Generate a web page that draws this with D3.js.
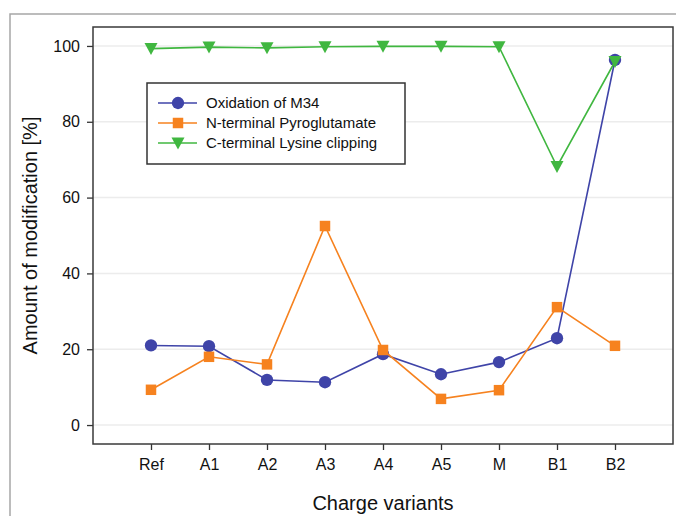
<!DOCTYPE html>
<html>
<head>
<meta charset="utf-8">
<script src="https://cdn.jsdelivr.net/npm/d3@7"></script>
<style>
  html, body { margin: 0; padding: 0; background: #fff; }
  svg { display: block; font-family: "Liberation Sans", Arial, sans-serif; }
</style>
</head>
<body>
<div id="chart"></div>
<script>
const categories = ["Ref", "A1", "A2", "A3", "A4", "A5", "M", "B1", "B2"];
const oxidation = [21.0, 20.8, 11.9, 11.3, 18.7, 13.4, 16.6, 22.9, 96.3];
const pyroglutamate = [9.3, 18.0, 16.0, 52.5, 19.8, 6.9, 9.2, 31.1, 20.9];
const lysineClipping = [99.3, 99.7, 99.5, 99.8, 99.9, 99.9, 99.8, 68.2, 95.9];
const yTicks = [0, 20, 40, 60, 80, 100];

const seriesNames = ["Oxidation of M34", "N-terminal Pyroglutamate", "C-terminal Lysine clipping"];
const seriesValues = [oxidation, pyroglutamate, lysineClipping];
const seriesColors = ["#3f44a8", "#f6821f", "#40b740"];
const seriesSymbols = ["circle", "square", "triangle"];

const WIDTH = 676;
const HEIGHT = 516;
const plot = { left: 93, right: 673, top: 27, bottom: 444 };

const svg = d3.select("#chart")
  .append("svg")
  .attr("width", WIDTH)
  .attr("height", HEIGHT);

// outer figure frame
svg.append("rect")
  .attr("x", 10)
  .attr("y", 14)
  .attr("width", 700)
  .attr("height", 520)
  .attr("fill", "none")
  .attr("stroke", "#a6a6a6")
  .attr("stroke-width", 1.5);

const x = d3.scaleLinear().domain([-1, categories.length]).range([plot.left, plot.right]);
const y = d3.scaleLinear().domain([-5, 105]).range([plot.bottom, plot.top]);

// gridlines
svg.append("g")
  .selectAll("line")
  .data(yTicks)
  .enter()
  .append("line")
  .attr("x1", plot.left)
  .attr("x2", plot.right)
  .attr("y1", (d) => y(d))
  .attr("y2", (d) => y(d))
  .attr("stroke", "#ececec")
  .attr("stroke-width", 1.5);

// axes
const yAxis = svg.append("g")
  .attr("transform", `translate(${plot.left},0)`)
  .call(d3.axisLeft(y).tickValues(yTicks).tickSize(6).tickPadding(7));

const xAxis = svg.append("g")
  .attr("transform", `translate(0,${plot.bottom})`)
  .call(d3.axisBottom(x)
    .tickValues(d3.range(categories.length))
    .tickFormat((i) => categories[i])
    .tickSize(6)
    .tickPadding(9));

[xAxis, yAxis].forEach((axis) => {
  axis.select(".domain").remove();
  axis.selectAll(".tick line").attr("stroke", "#333").attr("stroke-width", 1.3);
  axis.selectAll(".tick text")
    .attr("fill", "#111")
    .style("font-size", "16px")
    .style("font-family", "Liberation Sans, Arial, sans-serif");
});

// plot frame
svg.append("rect")
  .attr("x", plot.left)
  .attr("y", plot.top)
  .attr("width", plot.right - plot.left)
  .attr("height", plot.bottom - plot.top)
  .attr("fill", "none")
  .attr("stroke", "#3a3a3a")
  .attr("stroke-width", 1.5);

function symbolPath(kind) {
  if (kind === "circle") return d3.symbol(d3.symbolCircle, 120)();
  if (kind === "square") return d3.symbol(d3.symbolSquare, 110)();
  return "M-6.5,-5.5L6.5,-5.5L0,6.5Z";
}

const line = d3.line()
  .x((d, i) => x(i))
  .y((d) => y(d));

seriesValues.forEach((values, s) => {
  const g = svg.append("g");
  g.append("path")
    .datum(values)
    .attr("d", line)
    .attr("fill", "none")
    .attr("stroke", seriesColors[s])
    .attr("stroke-width", 1.6);
  g.selectAll("path.marker")
    .data(values)
    .enter()
    .append("path")
    .attr("class", "marker")
    .attr("transform", (d, i) => `translate(${x(i)},${y(d)})`)
    .attr("d", symbolPath(seriesSymbols[s]))
    .attr("fill", seriesColors[s]);
});

// legend
const legend = svg.append("g");
legend.append("rect")
  .attr("x", 147)
  .attr("y", 83)
  .attr("width", 258)
  .attr("height", 81)
  .attr("fill", "#fff")
  .attr("stroke", "#333")
  .attr("stroke-width", 1.5);

seriesNames.forEach((name, s) => {
  const ly = 103 + s * 20;
  legend.append("line")
    .attr("x1", 158)
    .attr("x2", 197)
    .attr("y1", ly)
    .attr("y2", ly)
    .attr("stroke", seriesColors[s])
    .attr("stroke-width", 1.6);
  legend.append("path")
    .attr("transform", `translate(178,${ly})`)
    .attr("d", symbolPath(seriesSymbols[s]))
    .attr("fill", seriesColors[s]);
  legend.append("text")
    .attr("x", 206)
    .attr("y", ly + 5)
    .attr("fill", "#111")
    .style("font-size", "15px")
    .text(name);
});

// axis titles
svg.append("text")
  .attr("x", (plot.left + plot.right) / 2)
  .attr("y", 510)
  .attr("text-anchor", "middle")
  .attr("fill", "#111")
  .style("font-size", "20px")
  .text("Charge variants");

svg.append("text")
  .attr("transform", `translate(37,${(plot.top + plot.bottom) / 2}) rotate(-90)`)
  .attr("text-anchor", "middle")
  .attr("fill", "#111")
  .style("font-size", "20px")
  .text("Amount of modification [%]");
</script>
</body>
</html>
